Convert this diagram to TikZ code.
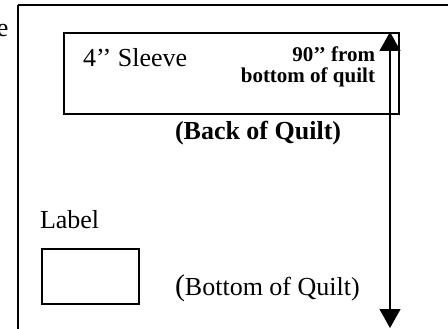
\documentclass[tikz,border=0pt]{standalone}
\usepackage{fontspec}
\setmainfont{Liberation Serif}
\usetikzlibrary{arrows.meta}
\tikzset{
  txt/.style={anchor=base west,inner sep=0pt,outer sep=0pt},
  txtr/.style={anchor=base east,inner sep=0pt,outer sep=0pt},
  reg/.style={font=\fontsize{26}{30}\selectfont},
  bld/.style={font=\fontsize{26}{30}\selectfont\bfseries},
  sbld/.style={font=\fontsize{21}{24}\selectfont\bfseries},
  boxline/.style={draw=black,line width=1.6pt},
  measure/.style={line width=1.3pt,{Triangle[length=19pt,width=21pt]}-{Triangle[length=19pt,width=21pt]}}
}
\begin{document}
\begin{tikzpicture}[x=1pt,y=-1pt]
\useasboundingbox (0,0) rectangle (448,329);
\begin{scope}
\clip (0,0) rectangle (448,329);
% outer frame (back of quilt)
\draw[boxline] (18,5) -- (470,5);
\draw[boxline] (18,5) -- (18,350);
\end{scope}
% clipped text at far left
\node[txtr,reg] (clip) at (8.5,37) {e};
% sleeve
\node[boxline,minimum width=335pt,minimum height=81pt,inner sep=0pt,anchor=north west] (sleeve) at (63,32) {};
\node[txt,reg] (sleevetxt) at (83,67) {4’’ Sleeve};
\node[txtr,sbld] (from1) at (375,62) {90’’ from};
\node[txtr,sbld] (from2) at (375,83) {bottom of quilt};
\node[txt,bld] (back) at (175,140) {(Back of Quilt)};
% label
\node[txt,reg] (labeltxt) at (40,229) {Label};
\node[boxline,minimum width=97pt,minimum height=55pt,inner sep=0pt,anchor=north west] (labelbox) at (41,248) {};
\node[txt,reg] (bottom) at (175,295) {{\fontsize{30}{30}\selectfont(}Bottom of Quilt)};
% measurement arrow
\coordinate (atop) at (390,32);
\coordinate (abot) at (390,328);
\draw[measure] (atop) -- (abot);
\end{tikzpicture}
\end{document}
